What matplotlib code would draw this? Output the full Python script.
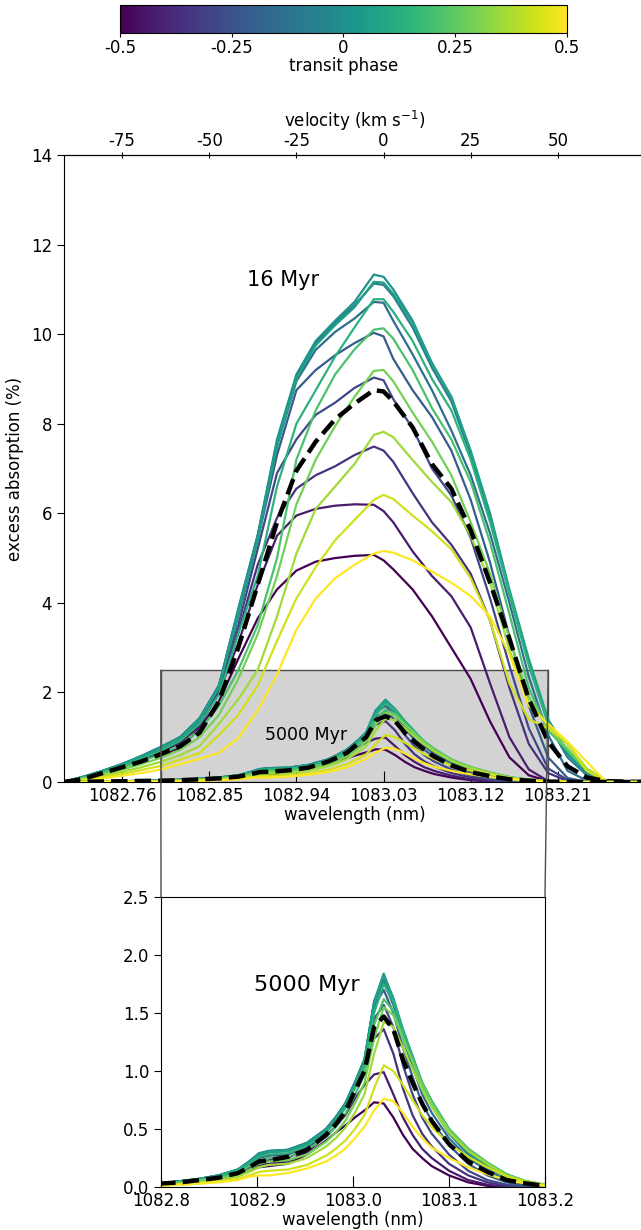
import matplotlib
matplotlib.use("Agg")
import matplotlib.pyplot as plt
from matplotlib.patches import Rectangle, ConnectionPatch
from matplotlib.colors import Normalize
from matplotlib.cm import ScalarMappable
import numpy as np

plt.rcParams['font.family'] = ['DejaVu Sans']
plt.rcParams['axes.unicode_minus'] = False

# ---------------- data ----------------
phases = [-0.5, -0.4286, -0.3571, -0.2857, -0.2143, -0.1429, -0.0714, 0.0,
          0.0714, 0.1429, 0.2143, 0.2857, 0.3571, 0.4286, 0.5]

wl_16 = [1082.70, 1082.72, 1082.74, 1082.76, 1082.78, 1082.80, 1082.82, 1082.84,
         1082.86, 1082.88, 1082.90, 1082.92, 1082.94, 1082.96, 1082.98, 1083.00,
         1083.02, 1083.03, 1083.04, 1083.06, 1083.08, 1083.10, 1083.12, 1083.14,
         1083.16, 1083.18, 1083.20, 1083.22, 1083.24, 1083.26, 1083.28, 1083.30]

abs16_p00 = [0, 0.10, 0.22, 0.36, 0.50, 0.62, 0.75, 1.20, 1.80, 2.75, 3.65, 4.30, 4.72, 4.92, 5.00, 5.05, 5.07, 4.95, 4.75, 4.30, 3.70, 3.00, 2.30, 1.35, 0.55, 0.15, 0.02, 0, 0, 0, 0, 0]
abs16_p01 = [0, 0.10, 0.22, 0.36, 0.50, 0.66, 0.88, 1.25, 2.00, 3.10, 4.40, 5.50, 5.95, 6.10, 6.17, 6.20, 6.19, 6.05, 5.80, 5.15, 4.60, 4.15, 3.45, 2.20, 1.00, 0.28, 0.02, 0, 0, 0, 0, 0]
abs16_p02 = [0, 0.10, 0.23, 0.38, 0.55, 0.72, 0.95, 1.30, 2.05, 3.35, 4.85, 5.90, 6.55, 6.85, 7.05, 7.30, 7.49, 7.40, 7.15, 6.45, 5.80, 5.30, 4.65, 3.60, 2.10, 0.85, 0.20, 0.02, 0, 0, 0, 0]
abs16_p03 = [0, 0.10, 0.23, 0.38, 0.56, 0.75, 1.00, 1.35, 2.15, 3.50, 5.20, 6.90, 7.65, 8.20, 8.47, 8.80, 9.03, 8.97, 8.55, 7.90, 7.00, 6.40, 5.45, 4.10, 2.60, 1.20, 0.30, 0.05, 0, 0, 0, 0]
abs16_p04 = [0, 0.11, 0.24, 0.39, 0.57, 0.77, 1.00, 1.40, 2.15, 3.70, 5.40, 7.30, 8.75, 9.20, 9.53, 9.80, 10.03, 9.95, 9.45, 8.75, 8.15, 7.40, 6.30, 4.90, 3.25, 1.70, 0.55, 0.09, 0, 0, 0, 0]
abs16_p05 = [0, 0.11, 0.25, 0.40, 0.58, 0.78, 1.00, 1.42, 2.15, 3.80, 5.50, 7.50, 8.95, 9.65, 10.05, 10.35, 10.72, 10.70, 10.30, 9.55, 8.75, 7.85, 6.85, 5.55, 4.00, 2.35, 1.05, 0.25, 0.03, 0, 0, 0]
abs16_p06 = [0, 0.12, 0.25, 0.40, 0.58, 0.78, 1.00, 1.42, 2.15, 3.85, 5.50, 7.60, 9.05, 9.80, 10.25, 10.65, 11.13, 11.10, 10.85, 10.15, 9.25, 8.50, 7.30, 5.90, 4.20, 2.65, 1.30, 0.55, 0.15, 0.01, 0, 0]
abs16_p07 = [0, 0.12, 0.25, 0.40, 0.58, 0.78, 1.00, 1.42, 2.15, 3.87, 5.50, 7.65, 9.10, 9.85, 10.30, 10.72, 11.33, 11.28, 11.00, 10.30, 9.35, 8.60, 7.35, 5.95, 4.25, 2.70, 1.35, 0.62, 0.20, 0.02, 0, 0]
abs16_p08 = [0, 0.11, 0.24, 0.39, 0.56, 0.75, 0.97, 1.38, 2.10, 3.75, 5.40, 7.50, 9.00, 9.75, 10.20, 10.60, 11.17, 11.15, 10.90, 10.25, 9.35, 8.60, 7.40, 6.00, 4.30, 2.75, 1.40, 0.68, 0.25, 0.03, 0, 0]
abs16_p09 = [0, 0.10, 0.22, 0.36, 0.52, 0.70, 0.92, 1.30, 1.95, 3.30, 4.60, 6.60, 8.00, 8.75, 9.50, 10.15, 10.78, 10.78, 10.50, 9.85, 9.00, 8.30, 7.20, 5.80, 4.20, 2.60, 1.30, 0.70, 0.25, 0.02, 0, 0]
abs16_p10 = [0, 0.09, 0.20, 0.32, 0.46, 0.62, 0.82, 1.15, 1.70, 2.50, 3.50, 5.00, 7.20, 8.30, 9.10, 9.66, 10.10, 10.13, 9.90, 9.20, 8.35, 7.65, 6.70, 5.35, 3.75, 2.10, 1.15, 0.70, 0.25, 0.02, 0, 0]
abs16_p11 = [0, 0.08, 0.17, 0.28, 0.40, 0.54, 0.72, 1.00, 1.50, 2.30, 3.30, 4.60, 6.20, 7.20, 7.95, 8.60, 9.18, 9.20, 8.95, 8.25, 7.60, 6.85, 5.80, 4.65, 3.20, 1.90, 1.20, 0.75, 0.25, 0.02, 0, 0]
abs16_p12 = [0, 0.06, 0.14, 0.23, 0.33, 0.45, 0.60, 0.80, 1.30, 1.85, 2.50, 3.70, 5.10, 6.10, 6.60, 7.10, 7.75, 7.82, 7.70, 7.19, 6.70, 6.25, 5.50, 4.45, 2.95, 1.77, 1.25, 0.85, 0.30, 0.02, 0, 0]
abs16_p13 = [0, 0.05, 0.11, 0.18, 0.27, 0.36, 0.50, 0.65, 1.05, 1.50, 2.15, 3.15, 4.10, 4.80, 5.40, 5.85, 6.30, 6.41, 6.32, 5.95, 5.60, 5.20, 4.55, 3.60, 2.20, 1.40, 1.20, 0.87, 0.25, 0.01, 0, 0]
abs16_p14 = [0, 0.03, 0.08, 0.14, 0.20, 0.28, 0.40, 0.52, 0.65, 0.98, 1.60, 2.40, 3.40, 4.10, 4.55, 4.85, 5.10, 5.16, 5.12, 4.95, 4.70, 4.45, 4.15, 3.70, 2.85, 1.70, 1.30, 0.90, 0.45, 0.00, 0, 0]
abs16_mean = [0, 0.07, 0.20, 0.33, 0.46, 0.62, 0.80, 1.10, 1.80, 3.00, 4.40, 5.80, 6.95, 7.60, 8.10, 8.45, 8.75, 8.72, 8.50, 7.92, 7.10, 6.55, 5.62, 4.45, 3.20, 1.85, 0.90, 0.35, 0.10, 0.02, 0.01, 0]

wl_5000 = [1082.70, 1082.80, 1082.82, 1082.84, 1082.86, 1082.88, 1082.892, 1082.902,
           1082.912, 1082.932, 1082.952, 1082.972, 1082.982, 1082.992, 1083.002,
           1083.012, 1083.022, 1083.032, 1083.042, 1083.052, 1083.062, 1083.072,
           1083.082, 1083.10, 1083.12, 1083.14, 1083.16, 1083.18, 1083.20, 1083.24, 1083.30]

abs5000_p00 = [0, 0.02, 0.03, 0.04, 0.06, 0.10, 0.14, 0.17, 0.18, 0.20, 0.28, 0.40, 0.47, 0.53, 0.60, 0.66, 0.73, 0.72, 0.60, 0.45, 0.33, 0.25, 0.18, 0.10, 0.04, 0.01, 0, 0, 0, 0, 0]
abs5000_p01 = [0, 0.02, 0.03, 0.05, 0.07, 0.11, 0.16, 0.19, 0.20, 0.22, 0.30, 0.44, 0.52, 0.62, 0.76, 0.88, 0.97, 0.99, 0.80, 0.60, 0.45, 0.33, 0.25, 0.14, 0.06, 0.02, 0, 0, 0, 0, 0]
abs5000_p02 = [0, 0.02, 0.04, 0.06, 0.08, 0.12, 0.18, 0.22, 0.23, 0.25, 0.33, 0.47, 0.57, 0.70, 0.86, 1.05, 1.28, 1.36, 1.15, 0.85, 0.62, 0.46, 0.35, 0.20, 0.10, 0.04, 0.01, 0, 0, 0, 0]
abs5000_p03 = [0, 0.03, 0.04, 0.06, 0.09, 0.13, 0.19, 0.25, 0.27, 0.28, 0.35, 0.48, 0.58, 0.70, 0.88, 1.06, 1.45, 1.57, 1.38, 1.05, 0.80, 0.60, 0.46, 0.28, 0.14, 0.06, 0.02, 0, 0, 0, 0]
abs5000_p04 = [0, 0.03, 0.05, 0.07, 0.10, 0.14, 0.21, 0.27, 0.30, 0.31, 0.37, 0.50, 0.60, 0.72, 0.90, 1.08, 1.55, 1.70, 1.50, 1.20, 0.95, 0.72, 0.57, 0.36, 0.20, 0.10, 0.04, 0.01, 0, 0, 0]
abs5000_p05 = [0, 0.03, 0.05, 0.07, 0.10, 0.15, 0.22, 0.28, 0.31, 0.32, 0.38, 0.50, 0.60, 0.72, 0.90, 1.10, 1.58, 1.77, 1.57, 1.28, 1.04, 0.80, 0.64, 0.42, 0.25, 0.14, 0.06, 0.02, 0, 0, 0]
abs5000_p06 = [0, 0.03, 0.05, 0.07, 0.10, 0.15, 0.22, 0.29, 0.31, 0.32, 0.38, 0.50, 0.60, 0.72, 0.90, 1.10, 1.60, 1.80, 1.60, 1.32, 1.10, 0.86, 0.70, 0.46, 0.28, 0.16, 0.08, 0.03, 0.01, 0, 0]
abs5000_p07 = [0, 0.03, 0.05, 0.07, 0.10, 0.15, 0.22, 0.29, 0.31, 0.32, 0.38, 0.50, 0.60, 0.72, 0.90, 1.10, 1.60, 1.84, 1.62, 1.35, 1.12, 0.88, 0.72, 0.48, 0.30, 0.18, 0.09, 0.04, 0.01, 0, 0]
abs5000_p08 = [0, 0.03, 0.05, 0.07, 0.10, 0.15, 0.21, 0.28, 0.30, 0.31, 0.37, 0.49, 0.59, 0.71, 0.89, 1.10, 1.58, 1.82, 1.63, 1.36, 1.13, 0.90, 0.74, 0.50, 0.32, 0.20, 0.10, 0.05, 0.01, 0, 0]
abs5000_p09 = [0, 0.03, 0.04, 0.06, 0.09, 0.14, 0.20, 0.26, 0.28, 0.29, 0.35, 0.47, 0.56, 0.68, 0.85, 1.05, 1.50, 1.75, 1.60, 1.35, 1.12, 0.90, 0.74, 0.50, 0.33, 0.21, 0.11, 0.05, 0.02, 0, 0]
abs5000_p10 = [0, 0.02, 0.04, 0.06, 0.08, 0.12, 0.18, 0.23, 0.25, 0.26, 0.32, 0.43, 0.52, 0.63, 0.79, 0.98, 1.40, 1.62, 1.52, 1.30, 1.10, 0.90, 0.74, 0.50, 0.33, 0.21, 0.11, 0.05, 0.02, 0, 0]
abs5000_p11 = [0, 0.02, 0.03, 0.05, 0.07, 0.10, 0.15, 0.20, 0.22, 0.23, 0.28, 0.39, 0.47, 0.57, 0.72, 0.90, 1.28, 1.55, 1.48, 1.28, 1.08, 0.88, 0.72, 0.49, 0.32, 0.20, 0.10, 0.05, 0.02, 0, 0]
abs5000_p12 = [0, 0.02, 0.03, 0.04, 0.06, 0.09, 0.13, 0.17, 0.19, 0.20, 0.25, 0.35, 0.42, 0.51, 0.64, 0.80, 1.15, 1.42, 1.38, 1.20, 1.02, 0.84, 0.69, 0.47, 0.31, 0.20, 0.10, 0.05, 0.02, 0, 0]
abs5000_p13 = [0, 0.02, 0.02, 0.03, 0.05, 0.07, 0.10, 0.13, 0.14, 0.15, 0.19, 0.27, 0.33, 0.40, 0.50, 0.62, 0.85, 1.05, 1.00, 0.88, 0.75, 0.62, 0.52, 0.37, 0.26, 0.17, 0.09, 0.04, 0.01, 0, 0]
abs5000_p14 = [0, 0.01, 0.02, 0.03, 0.04, 0.06, 0.09, 0.10, 0.10, 0.12, 0.16, 0.22, 0.27, 0.33, 0.42, 0.52, 0.66, 0.76, 0.74, 0.64, 0.52, 0.42, 0.34, 0.25, 0.17, 0.11, 0.06, 0.03, 0.01, 0, 0]
abs5000_mean = [0, 0.03, 0.04, 0.06, 0.08, 0.12, 0.17, 0.22, 0.23, 0.26, 0.32, 0.45, 0.54, 0.65, 0.83, 1.00, 1.38, 1.47, 1.36, 1.10, 0.90, 0.72, 0.57, 0.37, 0.22, 0.13, 0.06, 0.03, 0.01, 0, 0]

abs16_all = [abs16_p00, abs16_p01, abs16_p02, abs16_p03, abs16_p04, abs16_p05, abs16_p06,
             abs16_p07, abs16_p08, abs16_p09, abs16_p10, abs16_p11, abs16_p12, abs16_p13, abs16_p14]
abs5000_all = [abs5000_p00, abs5000_p01, abs5000_p02, abs5000_p03, abs5000_p04, abs5000_p05,
               abs5000_p06, abs5000_p07, abs5000_p08, abs5000_p09, abs5000_p10, abs5000_p11,
               abs5000_p12, abs5000_p13, abs5000_p14]

main_xticks = [1082.76, 1082.85, 1082.94, 1083.03, 1083.12, 1083.21]
main_xticklabels = ['1082.76', '1082.85', '1082.94', '1083.03', '1083.12', '1083.21']
vel_ticks = [-75, -50, -25, 0, 25, 50]
vel_ticklabels = ['-75', '-50', '-25', '0', '25', '50']
main_yticks = [0, 2, 4, 6, 8, 10, 12, 14]
zoom_xticks = [1082.8, 1082.9, 1083.0, 1083.1, 1083.2]
zoom_xticklabels = ['1082.8', '1082.9', '1083.0', '1083.1', '1083.2']
zoom_yticks = [0.0, 0.5, 1.0, 1.5, 2.0, 2.5]
zoom_yticklabels = ['0.0', '0.5', '1.0', '1.5', '2.0', '2.5']
cbar_ticks = [-0.5, -0.25, 0, 0.25, 0.5]
cbar_ticklabels = ['-0.5', '-0.25', '0', '0.25', '0.5']

# ---------------- figure ----------------
W, H = 641, 1230
fig = plt.figure(figsize=(W / 100, H / 100), dpi=100)

ax = fig.add_axes([64 / W, 1 - 782 / H, 581 / W, 627 / H])
ax2 = fig.add_axes([161 / W, 1 - 1187 / H, 384 / W, 290 / H])
cax = fig.add_axes([120 / W, 1 - 33 / H, 447 / W, 28 / H])

cmap = plt.get_cmap('viridis')
norm = Normalize(-0.5, 0.5)

# main axes
ax.add_patch(Rectangle((1082.8, 0), 0.4, 2.5, facecolor='lightgrey',
                       edgecolor='0.3', lw=1.0, zorder=1.5))
for ph, y in zip(phases, abs16_all):
    ax.plot(wl_16, y, color=cmap(norm(ph)), lw=1.6, zorder=2)
ax.plot(wl_16, abs16_mean, color='k', lw=3.2, ls='--', zorder=3)
for ph, y in zip(phases, abs5000_all):
    ax.plot(wl_5000, y, color=cmap(norm(ph)), lw=1.6, zorder=3.5)
ax.plot(wl_5000, abs5000_mean, color='k', lw=3.2, ls='--', zorder=4)

ax.set_xlim(1082.70, 1083.30)
ax.set_ylim(0, 14)
ax.set_xticks(main_xticks)
ax.set_xticklabels(main_xticklabels)
ax.set_yticks(main_yticks)
ax.tick_params(axis='x', direction='in', length=8, labelsize=12)
ax.tick_params(axis='y', direction='out', length=5, labelsize=12)
ax.set_xlabel('wavelength (nm)', fontsize=12, labelpad=1)
ax.set_ylabel('excess absorption (%)', fontsize=12, labelpad=5)
ax.text(1082.926, 11.2, '16 Myr', fontsize=15, ha='center', va='center')
ax.text(1082.950, 1.05, '5000 Myr', fontsize=12.5, ha='center', va='center', zorder=5)

secax = ax.secondary_xaxis('top', functions=(lambda l: (l - 1083.03) * 25 / 0.09,
                                             lambda v: 1083.03 + v * 0.09 / 25))
secax.set_xticks(vel_ticks)
secax.set_xticklabels(vel_ticklabels)
secax.tick_params(direction='inout', length=5, pad=1, labelsize=12)
secax.set_xlabel('velocity (km s$^{-1}$)', fontsize=12, labelpad=4)

# zoom axes
for ph, y in zip(phases, abs5000_all):
    ax2.plot(wl_5000, y, color=cmap(norm(ph)), lw=1.6)
ax2.plot(wl_5000, abs5000_mean, color='k', lw=3.2, ls='--')
ax2.set_xlim(1082.8, 1083.2)
ax2.set_ylim(0, 2.5)
ax2.set_xticks(zoom_xticks)
ax2.set_xticklabels(zoom_xticklabels)
ax2.set_yticks(zoom_yticks)
ax2.set_yticklabels(zoom_yticklabels)
ax2.tick_params(axis='x', direction='in', length=8, labelsize=12)
ax2.tick_params(axis='y', direction='out', length=5, labelsize=12)
ax2.set_xlabel('wavelength (nm)', fontsize=12, labelpad=1)
ax2.text(1082.952, 1.74, '5000 Myr', fontsize=16, ha='center', va='center')

# connectors
for xc in (1082.8, 1083.2):
    con = ConnectionPatch(xyA=(xc, 2.5), coordsA=ax.transData,
                          xyB=(xc, 2.5), coordsB=ax2.transData,
                          color='0.3', lw=1.0)
    fig.add_artist(con)

# colorbar
cb = fig.colorbar(ScalarMappable(norm=norm, cmap=cmap), cax=cax, orientation='horizontal')
cb.set_ticks(cbar_ticks)
cb.set_ticklabels(cbar_ticklabels)
cb.ax.tick_params(labelsize=12, length=3, pad=1)
cb.set_label('transit phase', fontsize=12, labelpad=0)

fig.savefig('out.png', dpi=100)
